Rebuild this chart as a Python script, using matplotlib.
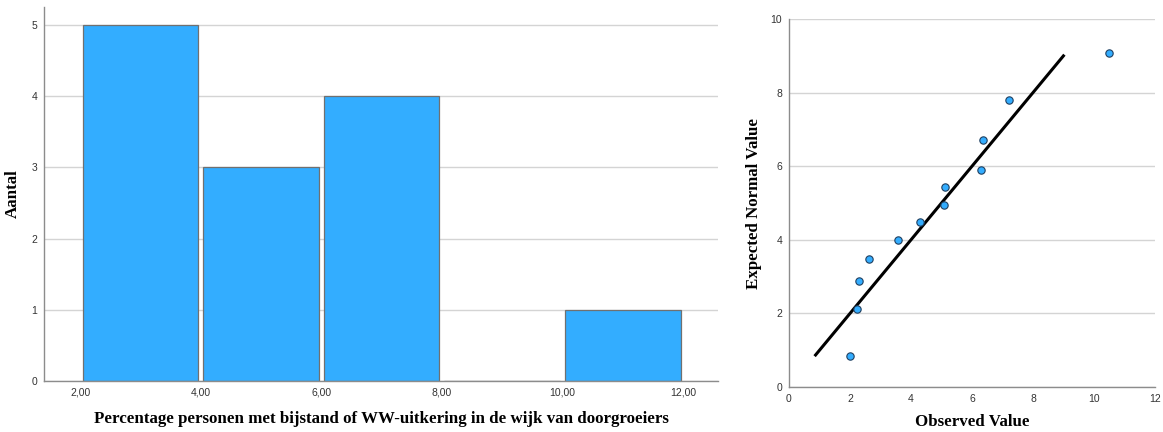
import matplotlib
matplotlib.use("Agg")
import matplotlib.pyplot as plt

# histogram: bin edges and counts
bin_left = [2.0, 4.0, 6.0, 8.0, 10.0]
counts = [5, 3, 4, 0, 1]
hist_ticks = [2, 4, 6, 8, 10, 12]
hist_ticklabels = ["2,00", "4,00", "6,00", "8,00", "10,00", "12,00"]

# normal Q-Q plot
observed = [2.01, 2.22, 2.28, 2.63, 3.59, 4.29, 5.07, 5.11, 6.31, 6.37, 7.21, 10.48]
expected = [0.84, 2.11, 2.88, 3.48, 4.00, 4.49, 4.95, 5.43, 5.91, 6.72, 7.80, 9.07]
ref_line = [0.84, 9.03]

BAR = "#33adff"
GRID = "#d4d4d4"
SPINE = "#8c8c8c"
label_font = dict(family="Liberation Serif", weight="bold", size=12.2)
tick_font = "Liberation Sans"

fig = plt.figure(figsize=(11.63, 4.32), dpi=100)
ax1 = fig.add_axes([0.0378, 0.118, 0.5796, 0.866])
ax2 = fig.add_axes([0.6784, 0.104, 0.3147, 0.852])

for ax in (ax1, ax2):
    for s in ("top", "right"):
        ax.spines[s].set_visible(False)
    for s in ("left", "bottom"):
        ax.spines[s].set_color(SPINE)
        ax.spines[s].set_linewidth(1.0)
    ax.set_axisbelow(True)
    ax.yaxis.grid(True, color=GRID, lw=1.0)
    ax.tick_params(length=0, labelsize=7, colors="#333333", pad=5)

# left: histogram
ax1.bar([b + 1.0 for b in bin_left], counts, width=1.92, color=BAR,
        edgecolor="#707070", linewidth=0.9)
ax1.set_xlim(1.40, 12.58)
ax1.set_ylim(0, 5.25)
ax1.set_yticks(range(0, 6))
ax1.set_xticks(hist_ticks)
ax1.set_xticklabels(hist_ticklabels, family=tick_font, fontsize=7.5)
ax1.set_yticklabels([str(i) for i in range(0, 6)], family=tick_font, fontsize=7.5)
ax1.set_ylabel("Aantal", **label_font)
ax1.set_xlabel("Percentage personen met bijstand of WW-uitkering in de wijk van doorgroeiers",
               **label_font)
ax1.yaxis.set_label_coords(-0.034, 0.5)
ax1.xaxis.set_label_coords(0.5, -0.080)

# right: Q-Q plot
ax2.plot(ref_line, ref_line, color="black", lw=2.2, solid_capstyle="butt")
ax2.scatter(observed, expected, s=28, color=BAR, edgecolor="#1f3f5f", linewidth=0.8, zorder=3)
ax2.set_xlim(0, 12)
ax2.set_ylim(0, 10)
ax2.set_xticks(range(0, 13, 2))
ax2.set_yticks(range(0, 11, 2))
ax2.set_xticklabels([str(i) for i in range(0, 13, 2)], family=tick_font, fontsize=7.5)
ax2.set_yticklabels([str(i) for i in range(0, 11, 2)], family=tick_font, fontsize=7.5)
ax2.set_xlabel("Observed Value", **label_font)
ax2.set_ylabel("Expected Normal Value", **label_font)
ax2.xaxis.set_label_coords(0.5, -0.073)
ax2.yaxis.set_label_coords(-0.074, 0.5)

fig.savefig("out.png", dpi=100)
